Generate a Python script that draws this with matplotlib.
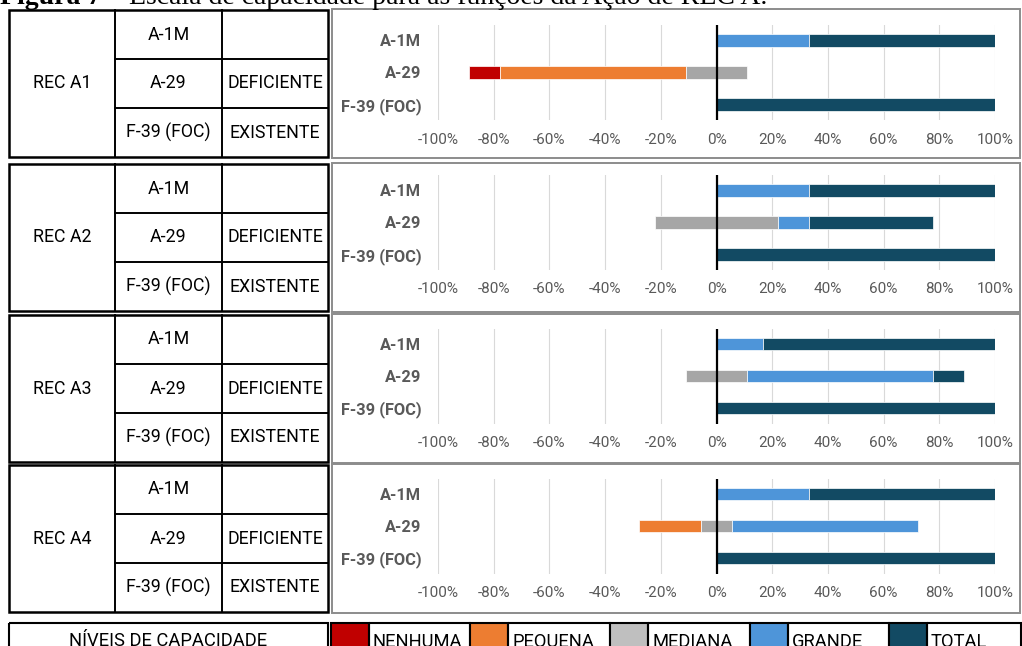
import numpy as np
import matplotlib.pyplot as plt
from matplotlib.patches import Rectangle

W, H = 1022, 646

recs = ["REC A1", "REC A2", "REC A3", "REC A4"]
funcoes = ["A-1M", "A-29", "F-39 (FOC)"]
situacao = ["", "DEFICIENTE", "EXISTENTE"]
niveis = ["NENHUMA", "PEQUENA", "MEDIANA", "GRANDE", "TOTAL"]

# % das respostas por nivel, linhas = A-1M, A-29, F-39 (FOC)
nenhuma = [[0, 11.1, 0], [0, 0, 0], [0, 0, 0], [0, 0, 0]]
pequena = [[0, 66.7, 0], [0, 0, 0], [0, 0, 0], [0, 22.2, 0]]
mediana = [[0, 22.2, 0], [0, 44.4, 0], [0, 22.2, 0], [0, 11.1, 0]]
grande = [[33.3, 0, 0], [33.3, 11.1, 0], [16.7, 66.7, 0], [33.3, 66.7, 0]]
total = [[66.7, 0, 100], [66.7, 44.4, 100], [83.3, 11.1, 100], [66.7, 0, 100]]

ticks = list(range(-100, 101, 20))

cores_barra = ["#C00000", "#ED7D31", "#A6A6A6", "#4E95D9", "#124A63"]
cores_legenda = ["#C00000", "#ED7D31", "#BFBFBF", "#4E95D9", "#124A63"]

plt.rcParams['font.family'] = ['Roboto', 'DejaVu Sans']

fig = plt.figure(figsize=(W / 100, H / 100), dpi=100)
ax0 = fig.add_axes([0, 0, 1, 1])
ax0.set_xlim(0, W)
ax0.set_ylim(H, 0)
ax0.axis('off')

# legenda da figura (cortada no topo, como no original)
t1 = ax0.text(0, 4, "Figura 7 – ", fontsize=20, fontweight='bold',
              family='Liberation Serif', va='baseline')
r = fig.canvas.get_renderer()
bb = t1.get_window_extent(renderer=r)
ax0.text(bb.x1, 4, "Escala de capacidade para as funções da Ação de REC A.",
         fontsize=20, family='Liberation Serif', va='baseline')

col_x = [9, 115, 222, 328]
tab_top = [10, 164, 315, 465]
grid_top = [25, 175, 328.5, 478.5]
row_h = 49
fs_tab = 12.8

for i, rec in enumerate(recs):
    t = tab_top[i]
    # tabela
    ax0.add_patch(Rectangle((col_x[0], t), col_x[3] - col_x[0], 3 * row_h,
                            fill=False, ec='black', lw=1.8))
    for cx in col_x[1:3]:
        ax0.plot([cx, cx], [t, t + 3 * row_h], color='black', lw=1.4)
    for k in (1, 2):
        ax0.plot([col_x[1], col_x[3]], [t + k * row_h] * 2, color='black', lw=1.4)
    ax0.text((col_x[0] + col_x[1]) / 2, t + 1.5 * row_h, rec, ha='center',
             va='center', fontsize=fs_tab)
    for k in range(3):
        ax0.text((col_x[1] + col_x[2]) / 2, t + (k + 0.5) * row_h, funcoes[k],
                 ha='center', va='center', fontsize=fs_tab)
        ax0.text((col_x[2] + col_x[3]) / 2, t + (k + 0.5) * row_h, situacao[k],
                 ha='center', va='center', fontsize=fs_tab)

    # moldura do grafico
    ax0.add_patch(Rectangle((332, t - 1), 688, 149, fc='white', ec='#8c8c8c', lw=1.4))

    # grafico
    g = grid_top[i]
    ax = fig.add_axes([438 / W, 1 - (g + 95) / H, (995 - 438) / W, 95 / H])
    ax.set_facecolor('none')
    vals = np.array([nenhuma[i], pequena[i], mediana[i], grande[i], total[i]])
    left = -(vals[0] + vals[1] + vals[2] / 2)
    y = np.arange(3)
    for k in range(5):
        m = vals[k] > 0
        ax.barh(y[m], vals[k][m], left=left[m], height=0.4, color=cores_barra[k],
                edgecolor='white', linewidth=0.5, zorder=3)
        left = left + vals[k]
    ax.axvline(0, color='black', lw=1.6, zorder=5)
    ax.set_xlim(-100, 100)
    ax.set_ylim(2.484, -0.484)
    ax.set_xticks(ticks, [f"{v}%" for v in ticks])
    ax.set_yticks(y, funcoes)
    ax.grid(axis='x', color='#d9d9d9', lw=0.8, zorder=0)
    for s in ax.spines.values():
        s.set_visible(False)
    ax.tick_params(axis='x', length=0, pad=9, labelsize=11, labelcolor='#595959')
    ax.tick_params(axis='y', length=0, pad=12, labelsize=11.8, labelcolor='#595959')
    for lb in ax.get_yticklabels():
        lb.set_fontweight('bold')

# linha da legenda
ly = 623
ax0.add_patch(Rectangle((9, ly), 319, 40, fill=False, ec='black', lw=1.5))
ax0.text(168, 632, "NÍVEIS DE CAPACIDADE", ha='center', va='top', fontsize=13.2)
cx = [331, 470, 610, 750, 889]
ends = [470, 610, 750, 889, 1021]
for k in range(5):
    ax0.add_patch(Rectangle((cx[k], ly), 38, 40, fc=cores_legenda[k], ec='black', lw=1.5))
    ax0.add_patch(Rectangle((cx[k] + 38, ly), ends[k] - cx[k] - 38, 40,
                            fill=False, ec='black', lw=1.5))
    ax0.text(cx[k] + 42, 633, niveis[k], ha='left', va='top', fontsize=13.2)

fig.savefig("out.png", dpi=100)
